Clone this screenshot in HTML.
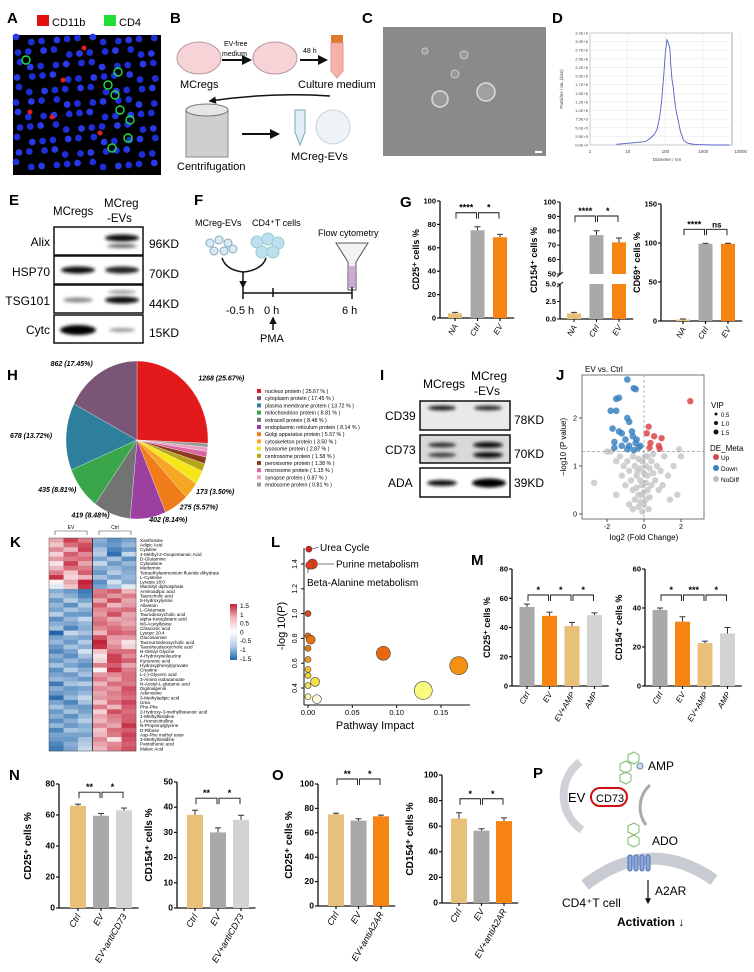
<!DOCTYPE html>
<html><head><meta charset="utf-8">
<style>
body{margin:0;background:#fff}
svg{display:block;font-family:"Liberation Sans",Arial,sans-serif}
.pl{font-size:15px;font-weight:bold}
</style></head>
<body>
<svg id="fig" width="754" height="972" viewBox="0 0 754 972">
<defs>
<filter id="blur" x="-30%" y="-100%" width="160%" height="300%"><feGaussianBlur stdDeviation="1.6"/></filter>
<marker id="arr" viewBox="0 0 10 10" refX="8" refY="5" markerWidth="5" markerHeight="5" orient="auto"><path d="M0,0L10,5L0,10z" fill="#111"/></marker>
</defs>
<g>
<text class="pl" x="7" y="23">A</text><text class="pl" x="170" y="23">B</text><text class="pl" x="362" y="23">C</text><text class="pl" x="552" y="23">D</text>
<text class="pl" x="9" y="205">E</text><text class="pl" x="194" y="205">F</text><text class="pl" x="400" y="207">G</text>
<text class="pl" x="7" y="380">H</text><text class="pl" x="380" y="380">I</text><text class="pl" x="556" y="380">J</text>
<text class="pl" x="10" y="547">K</text><text class="pl" x="271" y="547">L</text><text class="pl" x="471" y="565">M</text>
<text class="pl" x="9" y="780">N</text><text class="pl" x="272" y="780">O</text><text class="pl" x="533" y="778">P</text>
</g>
<g>
<rect x="37" y="15" width="12" height="11" fill="#e01010"/><text x="52" y="26" font-size="11">CD11b</text>
<rect x="104" y="15" width="12" height="11" fill="#22dd33"/><text x="119" y="26" font-size="11">CD4</text>
</g>
<rect id="aimg" x="13" y="35" width="148" height="140" fill="#000"/>
<g id="aspots"></g>
<g font-size="10">
<ellipse cx="199" cy="58" rx="22" ry="16" fill="#f6d3d6" stroke="#b9999c"/>
<ellipse cx="275" cy="58" rx="22" ry="16" fill="#f6d3d6" stroke="#b9999c"/>
<line x1="222" y1="60" x2="250" y2="60" stroke="#111" stroke-width="2" marker-end="url(#arr)"/>
<line x1="300" y1="60" x2="326" y2="60" stroke="#111" stroke-width="2" marker-end="url(#arr)"/>
<text x="224" y="46" font-size="7">EV-free</text><text x="222" y="56" font-size="7">medium</text>
<text x="303" y="53" font-size="7">48 h</text>
<rect x="331" y="35" width="12" height="8" fill="#e07a30"/>
<path d="M331,43 h12 v28 l-6,7 l-6,-7z" fill="#f6b2a8" stroke="#d99"/>
<text x="180" y="88" font-size="11">MCregs</text>
<text x="298" y="88" font-size="11">Culture medium</text>
<path d="M330,96 Q270,92 210,101" fill="none" stroke="#111" stroke-width="1.5" marker-end="url(#arr)"/>
<rect x="186" y="110" width="42" height="47" fill="#cfcfcf" stroke="#888"/>
<ellipse cx="207" cy="110" rx="21" ry="6" fill="#e5e5e5" stroke="#777"/>
<line x1="242" y1="134" x2="278" y2="134" stroke="#111" stroke-width="2" marker-end="url(#arr)"/>
<path d="M295,110 h10 v22 l-5,13 l-5,-13z" fill="#dfeefa" stroke="#7aa"/>
<circle cx="333" cy="127" r="17" fill="#eef3f8" stroke="#c6d3de"/>
<text x="291" y="160" font-size="11">MCreg-EVs</text>
<text x="177" y="170" font-size="11">Centrifugation</text>
</g>
<g>
<rect x="383" y="27" width="163" height="129" fill="#8a8a8a"/>
<circle cx="440" cy="99" r="8" fill="#9a9a9a" stroke="#ddd" stroke-width="1.5"/>
<circle cx="486" cy="92" r="9" fill="#a0a0a0" stroke="#ddd" stroke-width="1.5"/>
<circle cx="455" cy="74" r="4" fill="#9a9a9a" stroke="#ccc"/>
<circle cx="464" cy="55" r="4" fill="#9a9a9a" stroke="#ccc"/>
<circle cx="425" cy="51" r="3" fill="#9a9a9a" stroke="#ccc"/>
<rect x="535" y="151" width="7" height="2" fill="#fff"/>
</g>
<g font-size="12">
<text x="53" y="215" font-size="11.5">MCregs</text>
<text x="104" y="207" font-size="11.5">MCreg</text><text x="107" y="222" font-size="11.5">-EVs</text>
<rect x="54" y="227" width="89" height="28" fill="#fff" stroke="#111" stroke-width="1.5"/>
<rect x="54" y="256" width="89" height="28" fill="#fff" stroke="#111" stroke-width="1.5"/>
<rect x="54" y="285" width="89" height="28" fill="#fff" stroke="#111" stroke-width="1.5"/>
<rect x="54" y="315" width="89" height="28" fill="#fff" stroke="#111" stroke-width="1.5"/>
<g filter="url(#blur)">
<ellipse cx="122" cy="238" rx="17" ry="3.5" fill="#111"/><ellipse cx="122" cy="246" rx="15" ry="2" fill="#666"/>
<ellipse cx="78" cy="270" rx="17" ry="3.5" fill="#111"/><ellipse cx="122" cy="270" rx="17" ry="3.5" fill="#222"/>
<ellipse cx="78" cy="300" rx="15" ry="2.5" fill="#888"/><ellipse cx="122" cy="300" rx="17" ry="3.5" fill="#111"/><ellipse cx="122" cy="292" rx="14" ry="1.5" fill="#888"/>
<ellipse cx="78" cy="330" rx="18" ry="5" fill="#000"/><ellipse cx="122" cy="330" rx="13" ry="2" fill="#999"/>
</g>
<text x="50" y="246" text-anchor="end">Alix</text><text x="50" y="276" text-anchor="end">HSP70</text>
<text x="50" y="305" text-anchor="end">TSG101</text><text x="50" y="334" text-anchor="end">Cytc</text>
<text x="149" y="248">96KD</text><text x="149" y="278">70KD</text><text x="149" y="308">44KD</text><text x="149" y="337">15KD</text>
</g>
<g font-size="9">
<text x="195" y="226">MCreg-EVs</text><text x="252" y="226">CD4⁺T cells</text><text x="318" y="236">Flow cytometry</text>
<g fill="#d7e9f6" stroke="#8ab">
<circle cx="210" cy="243" r="4"/><circle cx="219" cy="240" r="4"/><circle cx="228" cy="243" r="4"/><circle cx="214" cy="251" r="4"/><circle cx="224" cy="251" r="4"/><circle cx="233" cy="249" r="4"/>
</g>
<g fill="#bde0f0" stroke="#9cc">
<circle cx="257" cy="242" r="6"/><circle cx="268" cy="239" r="6"/><circle cx="278" cy="243" r="6"/><circle cx="262" cy="252" r="6"/><circle cx="273" cy="252" r="6"/>
</g>
<path d="M222,258 Q226,270 243,272 Q262,270 266,258" fill="none" stroke="#111" stroke-width="1.5"/>
<line x1="243" y1="272" x2="243" y2="287" stroke="#111" stroke-width="1.5" marker-end="url(#arr)"/>
<path d="M336,243 L368,243 L356,262 L356,290 L348,290 L348,262z" fill="#f3f3f3" stroke="#555"/>
<rect x="349" y="266" width="6" height="22" fill="#d0a8d8"/>
<line x1="243" y1="293" x2="352" y2="293" stroke="#111" stroke-width="1.5"/>
<line x1="243" y1="287" x2="243" y2="299" stroke="#111" stroke-width="1.5"/><line x1="273" y1="288" x2="273" y2="297" stroke="#111" stroke-width="1.5"/><line x1="352" y1="287" x2="352" y2="299" stroke="#111" stroke-width="1.5"/>
<text x="226" y="314" font-size="11">-0.5 h</text><text x="264" y="314" font-size="11">0 h</text><text x="342" y="314" font-size="11">6 h</text>
<line x1="273" y1="330" x2="273" y2="318" stroke="#111" stroke-width="1.5" marker-end="url(#arr)"/>
<text x="260" y="342" font-size="11">PMA</text>
</g>
<g font-size="12">
<text x="423" y="388" font-size="12">MCregs</text><text x="471" y="380" font-size="12">MCreg</text><text x="474" y="395" font-size="12">-EVs</text>
<rect x="420" y="401" width="90" height="29" fill="#e9e9e9" stroke="#111" stroke-width="1.5"/>
<rect x="420" y="435" width="90" height="28" fill="#d9d9d9" stroke="#111" stroke-width="1.5"/>
<rect x="420" y="468" width="90" height="29" fill="#fff" stroke="#111" stroke-width="1.5"/>
<g filter="url(#blur)">
<ellipse cx="442" cy="408" rx="14" ry="2.5" fill="#222"/><ellipse cx="488" cy="408" rx="14" ry="2.5" fill="#333"/>
<ellipse cx="442" cy="445" rx="14" ry="2.5" fill="#333"/><ellipse cx="488" cy="445" rx="15" ry="3" fill="#111"/>
<ellipse cx="442" cy="455" rx="14" ry="2.5" fill="#444"/><ellipse cx="488" cy="455" rx="15" ry="3" fill="#111"/>
<ellipse cx="442" cy="483" rx="15" ry="3" fill="#111"/><ellipse cx="489" cy="483" rx="17" ry="4.5" fill="#000"/>
</g>
<text x="385" y="420">CD39</text><text x="385" y="454">CD73</text><text x="388" y="487">ADA</text>
<text x="514" y="424">78KD</text><text x="514" y="458">70KD</text><text x="514" y="487">39KD</text>
</g>
<g>
<path d="M580,762 A42,42 0 0,0 582,830" fill="none" stroke="#cfd3d8" stroke-width="8"/>
<path d="M650,785 A30,30 0 0,0 646,825" fill="none" stroke="#aaa" stroke-width="3"/>
<rect x="591" y="788" width="36" height="18" rx="9" fill="#fff" stroke="#d01010" stroke-width="2"/>
<text x="596" y="802" font-size="11">CD73</text>
<text x="568" y="802" font-size="13">EV</text>
<g fill="none" stroke="#7ab86a"><polygon points="628,755 634,752 639,755 639,761 634,764 628,761"/><polygon points="620,764 626,761 631,764 631,770 626,773 620,770"/><polygon points="620,775 626,772 631,775 631,781 626,784 620,781"/></g>
<circle cx="640" cy="766" r="3" fill="#cde" stroke="#68a"/>
<text x="648" y="770" font-size="12">AMP</text>
<g fill="none" stroke="#7ab86a"><polygon points="628,826 634,823 639,826 639,832 634,835 628,832"/><polygon points="628,838 634,835 639,838 639,844 634,847 628,844"/></g>
<text x="652" y="845" font-size="12">ADO</text>
<path d="M585,885 Q650,835 714,880" fill="none" stroke="#c8ccd2" stroke-width="12"/>
<g fill="#8aa8dd" stroke="#4a6fb0"><rect x="628" y="855" width="4" height="16" rx="2"/><rect x="634" y="855" width="4" height="16" rx="2"/><rect x="640" y="855" width="4" height="16" rx="2"/><rect x="646" y="855" width="4" height="16" rx="2"/></g>
<text x="655" y="895" font-size="12">A2AR</text>
<text x="562" y="907" font-size="12">CD4⁺T cell</text>
<line x1="648" y1="880" x2="648" y2="903" stroke="#111" stroke-width="1.2" marker-end="url(#arr)"/>
<text x="617" y="926" font-size="12" font-weight="bold">Activation ↓</text>
</g>
</svg>
<script>
// ---------------- DATA ----------------
const gCats = ['NA','Ctrl','EV'];
const g1Vals = [4, 75, 69];
const g1Errs = [0.8, 3, 2.5];
const g2Vals = [0.8, 77, 72];
const g2Errs = [0.15, 3, 3];
const g3Vals = [2, 99, 99];
const g3Errs = [0.6, 0.6, 0.6];
const g1Ticks = [0,20,40,60,80,100];
const g3Ticks = [0,50,100,150];
const g2TopTicks = [50,60,70,80,90,100];
const g2BotTicks = [0.0,2.5,5.0];
const gSigs = [[0,1,'****'],[1,2,'*']];
const g3Sigs = [[0,1,'****'],[1,2,'ns']];

const mCats = ['Ctrl','EV','EV+AMP','AMP'];
const m1Vals = [54, 48, 41, 48.5];
const m1Errs = [2, 2.5, 2.5, 1.5];
const m2Vals = [39, 33, 22, 27];
const m2Errs = [1, 2.5, 1, 3];
const m1Ticks = [0,20,40,60,80];
const m2Ticks = [0,20,40,60];
const m1Sigs = [[0,1,'*'],[1,2,'*'],[2,3,'*']];
const m2Sigs = [[0,1,'*'],[1,2,'***'],[2,3,'*']];

const nCats = ['Ctrl','EV','EV+antiCD73'];
const n1Vals = [66, 59.5, 63];
const n1Errs = [1, 1.5, 1.5];
const n2Vals = [37, 30, 35];
const n2Errs = [1.8, 1.8, 1.8];
const n1Ticks = [0,20,40,60,80];
const n2Ticks = [0,10,20,30,40,50];
const nSigs = [[0,1,'**'],[1,2,'*']];

const oCats = ['Ctrl','EV','EV+antiA2AR'];
const o1Vals = [75, 70, 73.5];
const o1Errs = [1, 1.5, 1];
const o2Vals = [66, 56.5, 64];
const o2Errs = [4.5, 1.5, 2.5];
const oTicks = [0,20,40,60,80,100];
const o1Sigs = [[0,1,'**'],[1,2,'*']];
const o2Sigs = [[0,1,'*'],[1,2,'*']];

const dDiam = [5,10,20,30,40,50,60,70,80,90,100,110,120,130,140,150,160,180,200,220,250,300,350,400,500,600,800,1000,2000,5000];
const dConc = [0.02,0.05,0.08,0.1,0.2,0.3,0.45,0.8,1.3,2.0,2.7,3.05,2.95,2.85,2.3,1.9,1.7,1.2,0.9,0.7,0.4,0.15,0.08,0.05,0.03,0.02,0.01,0.01,0.0,0.0];
const dYTicks = ['0.0E+0','2.5E+5','5.0E+5','7.5E+5','1.0E+6','1.2E+6','1.5E+6','1.7E+6','2.0E+6','2.2E+6','2.5E+6','2.7E+6','3.0E+6','3.2E+6'];
const dYTickVals = [0,0.25,0.5,0.75,1.0,1.25,1.5,1.75,2.0,2.25,2.5,2.75,3.0,3.25];
const dXTicks = [1,10,100,1000,10000];

const hCats = ['nucleus protein','cytoplasm protein','plasma membrane protein','mitochondrion protein','extracell protein','endoplasmic reticulum protein','Golgi apparatus protein','cytoskeleton protein','lysosome protein','centrosome protein','peroxisome protein','microsome protein','synapse protein','endosome protein'];
const hVals = [1268,862,678,435,419,402,275,173,142,78,68,57,43,40];
const hPct = ['25.67','17.45','13.72','8.81','8.48','8.14','5.57','3.50','2.87','1.58','1.38','1.15','0.87','0.81'];
const hColors = ['#e31a1c','#7b5577','#2e7f9c','#3aa64a','#737373','#9b3fa0','#f07d1a','#f5a623','#f5e61a','#b5a519','#8b3a1e','#d966a0','#e8a0c0','#9a9a9a'];
const hSliceOrder = [0,13,12,11,10,9,8,7,6,5,4,3,2,1];

const jUp = [[2.5,2.35],[0.25,1.82],[0.15,1.68],[0.55,1.62],[0.95,1.58],[0.35,1.48],[0.8,1.42],[0.3,1.38],[0.85,1.36]];
const jDown = [[-0.9,2.8],[-0.55,2.62],[-0.45,2.6],[-1.5,2.4],[-1.35,2.42],[-1.8,2.15],[-1.5,2.15],[-0.9,2.0],[-0.8,1.92],[-1.7,1.78],[-1.35,1.72],[-1.2,1.68],[-0.65,1.72],[-0.6,1.62],[-1.0,1.55],[-1.6,1.5],[-0.45,1.48],[-0.8,1.42],[-1.2,1.42],[-0.3,1.38],[-0.2,1.42],[-1.6,1.38],[-0.4,1.55],[-0.9,1.35],[-0.55,1.33]];
const jNo = [[-2.7,0.65],[-2.0,1.3],[-1.8,1.3],[-1.5,1.1],[-1.3,1.2],[-1.1,1.0],[-1.2,0.8],[-1.0,0.6],[-0.9,1.1],[-0.8,0.9],[-0.7,0.7],[-0.6,1.2],[-0.6,0.5],[-0.5,1.0],[-0.5,0.3],[-0.4,0.8],[-0.4,0.55],[-0.3,1.15],[-0.3,0.4],[-0.3,0.15],[-0.2,0.95],[-0.2,0.7],[-0.2,0.25],[-0.1,1.1],[-0.1,0.6],[-0.1,0.05],[0.0,0.85],[0.0,0.45],[0.0,0.2],[0.1,1.0],[0.1,0.65],[0.1,0.3],[0.2,1.2],[0.2,0.8],[0.2,0.5],[0.3,0.95],[0.3,0.35],[0.4,1.1],[0.4,0.6],[0.5,0.85],[0.5,1.25],[0.6,0.7],[0.7,1.0],[0.8,0.5],[0.9,0.9],[1.0,0.6],[1.1,1.2],[1.3,0.8],[1.6,1.0],[1.8,0.4],[2.0,1.2],[1.9,1.35],[-0.6,0.1],[-0.35,0.9],[0.05,1.2],[-0.15,0.4],[0.25,0.1],[-1.5,0.4],[1.4,0.3],[-0.8,0.2]];
const jYTicks = [0,1,2];
const jXTicks = [-2,0,2];

const kLabels = ['Xanthosine','Adipic Acid','Cytidine','4-Methyl-2-Oxopentanoic Acid','D-Glutamine','Cytarabine','Metformin','Tetraethylammonium fluoride dihydrate','L-Cysteine','Lysopa 18:0','Mannityl diphosphate','Aminoadipic acid','Taurocholic acid','5-Hydroxylysine','Allantoin','L-Glutamate','Taurodeoxycholic acid','alpha-Ketoglutaric acid','N6-Acetyllysine','Citraconic acid','Lysopc 20:4','Glucosamine','Tauroursodeoxycholic acid','Taurohyodeoxycholic acid','N-Oleoyl Glycine','4-Hydroxyisoleucine','Kynurenic acid','Hydroxyphenylpyruvate','Creatine','L-(-)-Glyceric acid','3-Amino isobutanoate','N-Acetyl-L-glutamic acid','Digitoxigenin','Adenosine','3-Methyladipic acid','Urea','Phe-Phe','2-Hydroxy-3-methylbutanoic acid','1-Methylhistidine','L-Homocitrulline','N-Propionylglycine','D-Ribose','Asp-Phe methyl ester','3-Methylhistidine','Pantothenic acid','Maleic Acid'];
const kMatrix = [
[0.6,1.3,0.9,-0.8,-1.1,-0.9],[0.4,1.0,1.2,-0.9,-1.0,-0.7],[0.8,0.5,1.3,-0.6,-1.2,-1.0],[0.3,1.1,0.8,-0.5,-1.4,-0.4],
[0.7,0.9,1.0,-0.9,-0.6,-1.1],[0.2,1.3,0.6,-0.4,-1.0,-0.7],[0.5,1.0,0.9,-0.8,-0.7,-0.9],[0.9,0.4,1.1,-1.0,-0.5,-0.8],
[1.4,0.3,0.5,-0.6,-0.9,-0.7],[0.1,0.6,1.5,-1.1,-0.3,-0.8],[-0.2,0.4,1.4,-0.9,-0.6,-0.2],
[-0.8,-1.0,-1.3,0.9,1.1,0.5],[-0.6,-0.8,-1.2,1.0,0.7,0.9],[-1.0,-0.5,-0.9,0.6,1.2,0.6],[-0.7,-1.1,-0.5,1.1,0.5,0.7],
[-0.9,-0.6,-0.8,0.8,0.9,1.0],[-0.5,-1.0,-1.0,0.7,1.2,0.6],[-1.1,-0.7,-0.4,0.9,0.6,0.7],[-0.8,-0.9,-0.7,1.0,0.8,0.6],
[-0.6,-1.2,-0.8,0.8,1.0,0.8],[-1.5,-0.4,-0.6,0.5,1.1,1.0],[-0.9,-0.8,-0.9,1.2,0.7,0.7],[-0.7,-1.0,-0.5,1.5,0.6,0.2],
[-1.0,-0.6,-0.8,1.4,0.8,0.3],[-1.2,-0.9,-0.3,0.4,1.0,1.0],[-0.8,-1.1,-0.6,0.2,1.3,0.8],[-1.0,-0.7,-0.9,0.3,1.3,1.1],
[-0.6,-0.9,-1.1,0.9,1.1,0.6],[-1.1,-0.5,-0.8,0.1,1.4,0.9],[-0.9,-1.0,-0.6,0.7,0.8,1.0],[-0.7,-0.8,-1.0,0.9,0.6,1.0],
[-1.3,-0.6,-0.5,0.5,1.0,0.9],[-0.8,-1.0,-0.9,0.8,0.7,1.2],[-1.0,-0.9,-0.7,0.6,0.9,1.1],[-1.4,-0.7,-0.4,0.7,0.8,1.0],
[-0.9,-1.2,-0.6,0.4,1.0,1.3],[-0.6,-0.9,-1.0,0.9,0.5,1.1],[-1.0,-0.6,-0.9,0.3,1.2,1.0],[-0.8,-1.1,-0.7,0.6,0.9,1.1],
[-1.1,-0.8,-0.5,0.5,0.8,1.1],[-0.7,-1.0,-0.8,0.8,0.6,1.4],[-1.2,-0.6,-0.7,0.4,1.0,1.1],[-0.9,-0.9,-0.9,0.5,0.9,1.3],
[-1.0,-1.0,-0.6,0.8,0.2,1.2],[-1.2,-0.8,-0.5,0.6,0.8,1.1],[-1.3,-0.9,-0.4,0.5,0.9,1.2]];
const kScaleTicks = [1.5,1,0.5,0,-0.5,-1,-1.5];

const lImpact = [0.001,0.005,0.002,0.0,0.085,0.0,0.003,0.17,0.0,0.0,0.0,0.0,0.008,0.0,0.13,0.0,0.01];
const lLogP = [1.52,1.40,1.39,1.0,0.68,0.82,0.79,0.58,0.72,0.63,0.55,0.50,0.45,0.42,0.38,0.33,0.31];
const lSize = [3,5,4,3,7,3,4.5,9,3,3,3,3,4.5,3,9,3,4.5];
const lColor = ['#e31a1c','#e8380e','#e0401a','#d8481a','#e8680e','#e8680e','#e8700e','#f59010','#e8780e','#f09a20','#f5c030','#f5d030','#f5e040','#f5e060','#fafa80','#faf4a0','#fcfce0'];
const lNames = ['Urea Cycle','Purine metabolism','Beta-Alanine metabolism'];
const lYTicks = [0.4,0.6,0.8,1.0,1.2,1.4];
const lXTicks = [0.00,0.05,0.10,0.15];

// ---------------- HELPERS ----------------
const NS = 'http://www.w3.org/2000/svg';
const svg = document.getElementById('fig');
function mk(tag, attrs, parent){ const e=document.createElementNS(NS,tag); for(const k in attrs) e.setAttribute(k,attrs[k]); (parent||svg).appendChild(e); return e; }
function txt(x,y,s,attrs,parent){ const e=mk('text',Object.assign({x:x,y:y},attrs||{}),parent); e.textContent=s; return e; }

(function(){
  const g=document.getElementById('aspots');
  for(let i=0;i<12;i++){ for(let j=0;j<11;j++){
    const cx=18+i*12.3+((j*7+i*3)%5)-2, cy=40+j*12.5+((i*5+j*3)%6)-3;
    const c=mk('circle',{cx:cx,cy:cy,r:3.4,fill:((i+j)%3?'#1f2fd8':'#2a3ae8')},g);
    
    
  }}
  [[108,85],[115,95],[120,110],[130,120],[128,138],[112,148],[118,72],[26,60]].forEach(p=>{ mk('circle',{cx:p[0],cy:p[1],r:4,fill:'none',stroke:'#20e040','stroke-width':1.4},g); });
  [[30,112],[52,117],[100,133],[63,80],[84,48]].forEach(p=>{ mk('circle',{cx:p[0],cy:p[1],r:2.5,fill:'#e02020'},g); });
})();

function barChart(o, cats, vals, errs, cols, ticks, sigs){
  const g=mk('g',{});
  
  
  const y=v=>o.y0-(v/o.max)*(o.y0-o.y1);
  const xb=i=>o.bx+i*o.step;
  const xEnd=xb(cats.length-1)+o.step/2+3;
  mk('line',{x1:o.ax,y1:o.y1,x2:o.ax,y2:o.y0,stroke:'#111','stroke-width':1.3},g);
  mk('line',{x1:o.ax,y1:o.y0,x2:xEnd,y2:o.y0,stroke:'#111','stroke-width':1.3},g);
  ticks.forEach(t=>{
    mk('line',{x1:o.ax-3,y1:y(t),x2:o.ax,y2:y(t),stroke:'#111','stroke-width':1.2},g);
    const tl=txt(o.ax-4,y(t)+2.5,String(t),{'font-size':o.fs||7.5,'font-weight':'bold','text-anchor':'end'},g);
    
    
  });
  cats.forEach((c,i)=>{
    const b=mk('rect',{x:xb(i)-o.bw/2,y:y(vals[i]),width:o.bw,height:o.y0-y(vals[i]),fill:cols[i]},g);
    
    
    const ye=y(vals[i]+errs[i]);
    mk('line',{x1:xb(i),y1:y(vals[i]),x2:xb(i),y2:ye,stroke:'#333','stroke-width':1},g);
    mk('line',{x1:xb(i)-3,y1:ye,x2:xb(i)+3,y2:ye,stroke:'#333','stroke-width':1},g);
    mk('line',{x1:xb(i),y1:o.y0,x2:xb(i),y2:o.y0+3,stroke:'#111','stroke-width':1.2},g);
    const cl=txt(xb(i)+3,o.y0+8,c,{'font-size':o.cfs||8,'font-style':'italic','text-anchor':'end',transform:'rotate(-60 '+(xb(i)+3)+' '+(o.y0+8)+')'},g);
    
    
  });
  const yl=txt(o.lx,(o.y0+o.y1)/2,o.ylabel,{'font-size':o.lfs||9,'font-weight':'bold','text-anchor':'middle',transform:'rotate(-90 '+o.lx+' '+((o.y0+o.y1)/2)+')'},g);
  
  
  let top=Infinity; vals.forEach((v,i)=>{top=Math.min(top,y(v+errs[i]));});
  const by=(o.sigY!==undefined)?o.sigY:top-o.gap;
  sigs.forEach(s=>{
    const x1=xb(s[0])+1,x2=xb(s[1])-1;
    mk('path',{d:'M'+x1+','+(by+6)+'V'+by+'H'+x2+'V'+(by+6),fill:'none',stroke:'#111','stroke-width':0.9},g);
    const st=txt((x1+x2)/2,by-2,s[2],{'font-size':s[2]==='ns'?8:9,'font-weight':'bold','text-anchor':'middle'},g);
    
    
  });
  return g;
}
const TAN='#e8c07a', GRY='#a9a9a9', ORG='#f78412', LGR='#d3d3d3';

barChart({name:'g-cd25-chart',ax:440,y0:318,y1:201,max:100,bx:455,step:22.5,bw:14,lx:419,ylabel:'CD25⁺ cells  %',gap:14}, gCats,g1Vals,g1Errs,[TAN,GRY,ORG],g1Ticks,gSigs);
barChart({name:'g-cd69-chart',ax:661,y0:321,y1:204,max:150,bx:683,step:22.5,bw:14,lx:640,ylabel:'CD69⁺ cells  %',gap:14}, gCats,g3Vals,g3Errs,[TAN,GRY,ORG],g3Ticks,g3Sigs);

(function(){
  const g=mk('g',{});
  
  
  const ax=560, bx=574, step=22.5, bw=14;
  const yT=v=>274-(v-50)/50*(274-202);
  const yB=v=>319-v/5*(319-284);
  mk('line',{x1:ax,y1:202,x2:ax,y2:274,stroke:'#111','stroke-width':1.3},g);
  mk('line',{x1:ax,y1:284,x2:ax,y2:319,stroke:'#111','stroke-width':1.3},g);
  mk('line',{x1:ax-3,y1:277,x2:ax+3,y2:272,stroke:'#111'},g);
  mk('line',{x1:ax-3,y1:287,x2:ax+3,y2:282,stroke:'#111'},g);
  mk('line',{x1:ax,y1:319,x2:bx+2*step+step/2+3,y2:319,stroke:'#111','stroke-width':1.3},g);
  g2TopTicks.forEach(t=>{ mk('line',{x1:ax-3,y1:yT(t),x2:ax,y2:yT(t),stroke:'#111'},g);
    const tl=txt(ax-4,yT(t)+2.5,String(t),{'font-size':7.5,'font-weight':'bold','text-anchor':'end'},g);
    
     });
  g2BotTicks.forEach(t=>{ mk('line',{x1:ax-3,y1:yB(t),x2:ax,y2:yB(t),stroke:'#111'},g);
    const tl=txt(ax-4,yB(t)+2.5,t.toFixed(1),{'font-size':7.5,'font-weight':'bold','text-anchor':'end'},g);
    
     });
  const cols=[TAN,GRY,ORG];
  gCats.forEach((c,i)=>{
    const x=bx+i*step, v=g2Vals[i];
    if(v>5){
      const b1=mk('rect',{x:x-bw/2,y:yT(v),width:bw,height:274-yT(v),fill:cols[i]},g);
      
      
      const b2=mk('rect',{x:x-bw/2,y:284,width:bw,height:35,fill:cols[i]},g);
      
      
      const ye=yT(v+g2Errs[i]);
      mk('path',{d:'M'+x+','+yT(v)+'V'+ye+'M'+(x-3)+','+ye+'H'+(x+3),stroke:'#333',fill:'none'},g);
    } else {
      const b=mk('rect',{x:x-bw/2,y:yB(v),width:bw,height:319-yB(v),fill:cols[i]},g);
      
      
      const ye=yB(v+g2Errs[i]);
      mk('path',{d:'M'+x+','+yB(v)+'V'+ye+'M'+(x-3)+','+ye+'H'+(x+3),stroke:'#333',fill:'none'},g);
    }
    mk('line',{x1:x,y1:319,x2:x,y2:322,stroke:'#111'},g);
    const cl=txt(x+3,327,c,{'font-size':8,'font-style':'italic','text-anchor':'end',transform:'rotate(-60 '+(x+3)+' 327)'},g);
    
    
  });
  const by=216;
  gSigs.forEach(s=>{ const x1=bx+s[0]*step+1,x2=bx+s[1]*step-1;
    mk('path',{d:'M'+x1+','+(by+6)+'V'+by+'H'+x2+'V'+(by+6),fill:'none',stroke:'#111','stroke-width':0.9},g);
    const st=txt((x1+x2)/2,by-2,s[2],{'font-size':9,'font-weight':'bold','text-anchor':'middle'},g);
    
     });
  const yl=txt(537,260,'CD154⁺ cells  %',{'font-size':9,'font-weight':'bold','text-anchor':'middle',transform:'rotate(-90 537 260)'},g);
  
  
})();

barChart({name:'m-cd25-chart',ax:512,y0:686,y1:569,max:80,bx:527,step:22.5,bw:15,lx:490,ylabel:'CD25⁺ cells  %',sigY:595}, mCats,m1Vals,m1Errs,[GRY,ORG,TAN,LGR],m1Ticks,m1Sigs);
barChart({name:'m-cd154-chart',ax:645,y0:686,y1:569,max:60,bx:660,step:22.5,bw:15,lx:622,ylabel:'CD154⁺ cells  %',sigY:595}, mCats,m2Vals,m2Errs,[GRY,ORG,TAN,LGR],m2Ticks,m2Sigs);
barChart({name:'n-cd25-chart',ax:59,y0:908,y1:784,max:80,bx:78,step:23,bw:16,lx:31,ylabel:'CD25⁺ cells  %',gap:12,fs:8.5,cfs:9,lfs:10}, nCats,n1Vals,n1Errs,[TAN,GRY,LGR],n1Ticks,nSigs);
barChart({name:'n-cd154-chart',ax:177,y0:908,y1:782,max:50,bx:195,step:23,bw:16,lx:152,ylabel:'CD154⁺ cells  %',gap:12,fs:8.5,cfs:9,lfs:10}, nCats,n2Vals,n2Errs,[TAN,GRY,LGR],n2Ticks,nSigs);
barChart({name:'o-cd25-chart',ax:318,y0:906,y1:784,max:100,bx:336,step:22.5,bw:16,lx:292,ylabel:'CD25⁺ cells  %',sigY:779,fs:8.5,cfs:9,lfs:10}, oCats,o1Vals,o1Errs,[TAN,GRY,ORG],oTicks,o1Sigs);
barChart({name:'o-cd154-chart',ax:442,y0:903,y1:775,max:100,bx:459,step:22.5,bw:16,lx:413,ylabel:'CD154⁺ cells  %',gap:14,fs:8.5,cfs:9,lfs:10}, oCats,o2Vals,o2Errs,[TAN,GRY,ORG],oTicks,o2Sigs);

(function(){
  const g=mk('g',{});
  
  
  const x=d=>590+Math.log10(d)*37.7;
  const y=v=>145-v/3.25*112;
  mk('rect',{x:590,y:33,width:142,height:112,fill:'#fff',stroke:'#999','stroke-width':0.8},g);
  dYTickVals.forEach((t,i)=>{ mk('line',{x1:590,y1:y(t),x2:732,y2:y(t),stroke:'#e6e6e6','stroke-width':0.5},g);
    const tl=txt(588,y(t)+1.5,dYTicks[i],{'font-size':4,'text-anchor':'end',fill:'#444'},g);
    
     });
  dXTicks.forEach(t=>{ mk('line',{x1:x(t),y1:33,x2:x(t),y2:145,stroke:'#e6e6e6','stroke-width':0.5},g);
    const tl=txt(x(t),153,String(t),{'font-size':4.5,'text-anchor':'middle',fill:'#444'},g);
    
     });
  const pts=dDiam.map((d,i)=>x(d).toFixed(1)+','+y(dConc[i]).toFixed(1)).join(' ');
  const ln=mk('polyline',{points:pts,fill:'none',stroke:'#5560c8','stroke-width':0.9},g);
  
  
  txt(667,161,'Diameter / nm',{'font-size':4.5,'text-anchor':'middle',fill:'#444'},g);
  txt(563,89,'Particles / mL (size)',{'font-size':4.5,'text-anchor':'middle',fill:'#444',transform:'rotate(-90 563 89)'},g);
})();

(function(){
  const g=mk('g',{});
  
  
  const cx=137, cy=440, rx=71, ry=79;
  const tot=hVals.reduce((a,b)=>a+b,0);
  let a=-Math.PI/2;
  hSliceOrder.forEach(k=>{
    const da=hVals[k]/tot*2*Math.PI, a2=a+da;
    const p='M'+cx+','+cy+'L'+(cx+rx*Math.cos(a))+','+(cy+ry*Math.sin(a))+'A'+rx+','+ry+' 0 '+(da>Math.PI?1:0)+',1 '+(cx+rx*Math.cos(a2))+','+(cy+ry*Math.sin(a2))+'Z';
    const s=mk('path',{d:p,fill:hColors[k],stroke:'#fff','stroke-width':0.3},g);
    
    
    if(k<8){
      const am=(a+a2)/2, off=Math.sin(am)>0.6?2:10;
      const lx=cx+(rx+off+4)*Math.cos(am), ly=cy+(ry+off)*Math.sin(am);
      const t=txt(lx,ly+2,hVals[k]+' ('+hPct[k]+'%)',{'font-size':7,'font-weight':'bold','font-style':'italic','text-anchor':Math.cos(am)>0.1?'start':(Math.cos(am)<-0.1?'end':'middle')},g);
      
      
    }
    a=a2;
  });
  hCats.forEach((c,i)=>{
    const yy=393+i*7.2;
    const sw=mk('rect',{x:257,y:yy-4,width:4,height:4,fill:hColors[i]},g);
    
    
    const t=txt(265,yy,c+' ( '+hPct[i]+' % )',{'font-size':5.3},g);
    
    
  });
})();

(function(){
  const g=mk('g',{});
  
  
  const x=v=>644+v*18.5, y=v=>514-v*48;
  txt(585,372,'EV vs. Ctrl',{'font-size':8},g);
  mk('rect',{x:582,y:375,width:122,height:144,fill:'#fff',stroke:'#555','stroke-width':0.8},g);
  jNo.forEach(p=>{ const c=mk('circle',{cx:x(p[0]),cy:y(p[1]),r:3.2,fill:'#c8c8c8','fill-opacity':0.85},g);
    
     });
  mk('path',{d:'M582,'+y(1.3)+'H704M'+x(0)+',375V519',stroke:'#999','stroke-dasharray':'3,2','stroke-width':0.7,fill:'none'},g);
  jDown.forEach(p=>{ const c=mk('circle',{cx:x(p[0]),cy:y(p[1]),r:3.3,fill:'#3b83c0','fill-opacity':0.85},g);
    
     });
  jUp.forEach(p=>{ const c=mk('circle',{cx:x(p[0]),cy:y(p[1]),r:3.2,fill:'#d94848','fill-opacity':0.85},g);
    
     });
  jYTicks.forEach(t=>{ mk('line',{x1:579,y1:y(t),x2:582,y2:y(t),stroke:'#555'},g); txt(577,y(t)+2.5,String(t),{'font-size':7,'text-anchor':'end'},g); });
  jXTicks.forEach(t=>{ mk('line',{x1:x(t),y1:519,x2:x(t),y2:522,stroke:'#555'},g); txt(x(t),529,String(t),{'font-size':7,'text-anchor':'middle'},g); });
  txt(644,540,'log2 (Fold Change)',{'font-size':8,'text-anchor':'middle'},g);
  txt(566,447,'−log10 (P value)',{'font-size':8,'text-anchor':'middle',transform:'rotate(-90 566 447)'},g);
  txt(711,408,'VIP',{'font-size':8},g);
  [[0.5,1.5],[1.0,2],[1.5,2.5]].forEach((v,i)=>{ mk('circle',{cx:716,cy:414+i*9,r:v[1],fill:'#111'},g); txt(721,417+i*9,v[0].toFixed(1),{'font-size':6},g); });
  txt(710,451,'DE_Meta',{'font-size':8},g);
  [['Up','#d94848'],['Down','#3b83c0'],['NoDiff','#c0c0c0']].forEach((v,i)=>{ mk('circle',{cx:716,cy:457+i*11,r:3,fill:v[1]},g); txt(721,460+i*11,v[0],{'font-size':6.5},g); });
})();

(function(){
  const g=mk('g',{});
  
  
  const x0=49, y0=538, H=213, cw=14.5, rh=H/kLabels.length;
  function col(v){ const t=Math.max(-1,Math.min(1,v/1.5));
    if(t>=0){ const r=255-(255-196)*t, gg=255-(255-36)*t, b=255-(255-58)*t; return 'rgb('+r.toFixed(0)+','+gg.toFixed(0)+','+b.toFixed(0)+')'; }
    const s=-t; return 'rgb('+(255-(255-33)*s).toFixed(0)+','+(255-(255-102)*s).toFixed(0)+','+(255-(255-172)*s).toFixed(0)+')'; }
  kMatrix.forEach((row,r)=>{ row.forEach((v,c)=>{
    const cell=mk('rect',{x:x0+c*cw,y:y0+r*rh,width:cw+0.3,height:rh+0.3,fill:col(v)},g);
    
    
  });
    const t=txt(140,y0+r*rh+rh*0.85,kLabels[r],{'font-size':4.6},g);
    
    
  });
  mk('line',{x1:x0+3*cw,y1:y0,x2:x0+3*cw,y2:y0+H,stroke:'#222','stroke-width':0.8},g);
  mk('rect',{x:x0,y:y0,width:6*cw,height:H,fill:'none',stroke:'#555','stroke-width':0.5},g);
  mk('path',{d:'M55,535V531H87V535M99,535V531H131V535',fill:'none',stroke:'#444','stroke-width':0.6},g);
  txt(71,529,'EV',{'font-size':5,'text-anchor':'middle'},g);
  txt(115,529,'Ctrl',{'font-size':5,'text-anchor':'middle'},g);
  const lg=mk('linearGradient',{id:'kgrad',x1:0,y1:0,x2:0,y2:1},g);
  ['#c0243a','#f2b8bf','#ffffff','#b3cde6','#2166ac'].forEach((c,i)=>mk('stop',{offset:(i*25)+'%','stop-color':c},lg));
  mk('rect',{x:230,y:604,width:7,height:56,fill:'url(#kgrad)'},g);
  kScaleTicks.forEach((t,i)=>{ txt(240,608+i*8.8,String(t),{'font-size':6.5},g); });
})();

(function(){
  const g=mk('g',{});
  
  
  const x=v=>308+v/0.15*133, y=v=>688-(v-0.4)/0.1*12.4;
  mk('line',{x1:304,y1:548,x2:304,y2:705,stroke:'#111','stroke-width':1},g);
  mk('line',{x1:304,y1:705,x2:470,y2:705,stroke:'#111','stroke-width':1},g);
  lYTicks.forEach(t=>{ mk('line',{x1:301,y1:y(t),x2:304,y2:y(t),stroke:'#111'},g);
    txt(297,y(t),t.toFixed(1),{'font-size':7,'text-anchor':'middle',transform:'rotate(-90 297 '+y(t)+')'},g); });
  lXTicks.forEach(t=>{ mk('line',{x1:x(t),y1:705,x2:x(t),y2:708,stroke:'#111'},g);
    txt(x(t),715,t.toFixed(2),{'font-size':7.5,'text-anchor':'middle'},g); });
  txt(375,729,'Pathway Impact',{'font-size':11,'text-anchor':'middle'},g);
  txt(285,626,'-log 10(P)',{'font-size':11,'text-anchor':'middle',transform:'rotate(-90 285 626)'},g);
  lImpact.forEach((v,i)=>{
    const c=mk('circle',{cx:x(v),cy:y(lLogP[i]),r:lSize[i],fill:lColor[i],stroke:'#444','stroke-width':0.6},g);
    
    
  });
  mk('line',{x1:312,y1:y(lLogP[0]),x2:318,y2:y(lLogP[0])-2,stroke:'#222','stroke-width':0.6},g);
  txt(320,y(lLogP[0])+2,lNames[0],{'font-size':10},g);
  mk('line',{x1:318,y1:y(lLogP[1]),x2:334,y2:y(lLogP[1]),stroke:'#222','stroke-width':0.6},g);
  txt(336,y(lLogP[1])+3.5,lNames[1],{'font-size':10},g);
  mk('line',{x1:308,y1:y(lLogP[2])+3,x2:308,y2:y(lLogP[2])+8,stroke:'#222','stroke-width':0.6},g);
  txt(307,y(lLogP[2])+21,lNames[2],{'font-size':10},g);
})();
</script>
</body></html>
